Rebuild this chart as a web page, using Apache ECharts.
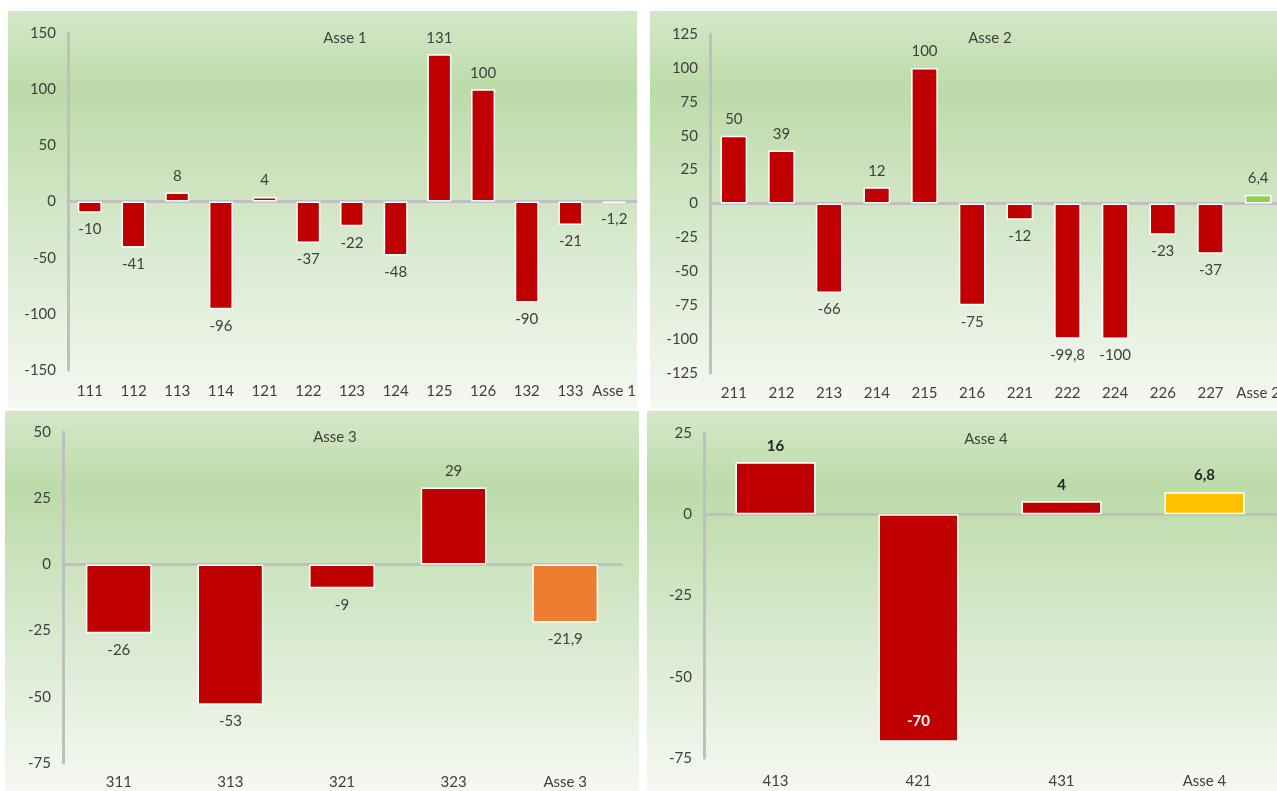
<!DOCTYPE html>
<html>
<head>
<meta charset="utf-8">
<script src="https://cdn.jsdelivr.net/npm/echarts@6/dist/echarts.min.js"></script>
<style>
  html, body { margin: 0; padding: 0; background: #ffffff; }
  #chart { width: 1277px; height: 791px; }
</style>
</head>
<body>
<div id="chart"></div>
<script>
// Scostamenti per asse: categorie e valori
const titles = ['Asse 1', 'Asse 2', 'Asse 3', 'Asse 4'];

const cats1 = ['111', '112', '113', '114', '121', '122', '123', '124', '125', '126', '132', '133', 'Asse 1'];
const vals1 = [-10, -41, 8, -96, 4, -37, -22, -48, 131, 100, -90, -21, -1.2];

const cats2 = ['211', '212', '213', '214', '215', '216', '221', '222', '224', '226', '227', 'Asse 2'];
const vals2 = [50, 39, -66, 12, 100, -75, -12, -99.8, -100, -23, -37, 6.4];

const cats3 = ['311', '313', '321', '323', 'Asse 3'];
const vals3 = [-26, -53, -9, 29, -21.9];

const cats4 = ['413', '421', '431', 'Asse 4'];
const vals4 = [16, -70, 4, 6.8];

// Scale of each value axis: [min, max, interval]
const yScale1 = [-150, 150, 50];
const yScale2 = [-125, 125, 25];
const yScale3 = [-75, 50, 25];
const yScale4 = [-75, 25, 25];

const RED = '#C00000';
const totalColors = [RED, '#92D050', '#ED7D31', '#FFC000'];
const FONT = 'Lato';
const FS = 15;
const TXT = '#404040';
const AXIS = '#BFBFBF';

// Panel frames and plot areas (pixels)
const panels = [
  { box: [8, 11, 629, 397],  grid: { left: 68,  top: 33,  width: 568, height: 337 }, title: [340, 37],  barW: '55%', bold: false, lblMargin: 14 },
  { box: [650, 11, 640, 397], grid: { left: 710, top: 34,  width: 572, height: 339 }, title: [985, 37],  barW: '56%', bold: false, lblMargin: 13 },
  { box: [5, 411, 634, 380],  grid: { left: 63,  top: 432, width: 558, height: 331 }, title: [330, 436], barW: '59%', bold: false, lblMargin: 12 },
  { box: [647, 411, 630, 380], grid: { left: 704, top: 433, width: 572, height: 325 }, title: [981, 438], barW: '56%', bold: true, lblMargin: 16 }
];

const cats = [cats1, cats2, cats3, cats4];
const vals = [vals1, vals2, vals3, vals4];
const scales = [yScale1, yScale2, yScale3, yScale4];

const fmt = v => String(v).replace('.', ',');

const option = {
  animation: false,
  backgroundColor: '#ffffff',
  textStyle: { fontFamily: FONT },
  graphic: { elements: [] },
  title: [],
  grid: [],
  xAxis: [],
  yAxis: [],
  series: []
};

panels.forEach((p, i) => {
  // soft green gradient background of each panel
  option.graphic.elements.push({
    type: 'rect',
    z: -10,
    silent: true,
    shape: { x: p.box[0], y: p.box[1], width: p.box[2], height: p.box[3] },
    style: {
      fill: new echarts.graphic.LinearGradient(0, 0, 0, 1, [
        { offset: 0, color: '#d4e8c9' },
        { offset: 0.2, color: '#bcdba9' },
        { offset: 0.6, color: '#d9ead0' },
        { offset: 1, color: '#f5f8f2' }
      ])
    }
  });

  option.title.push({
    text: titles[i],
    left: p.title[0],
    top: p.title[1] - 11,
    textAlign: 'center',
    textStyle: { fontFamily: FONT, fontSize: FS, fontWeight: 'normal', color: TXT }
  });

  option.grid.push(Object.assign({ containLabel: false, outerBoundsMode: 'none' }, p.grid));

  // category axis carrying the labels along the bottom edge
  option.xAxis.push({
    type: 'category',
    gridIndex: i,
    data: cats[i],
    position: 'bottom',
    axisLine: { show: false, onZero: false },
    axisTick: { show: false },
    axisLabel: { color: TXT, fontFamily: FONT, fontSize: FS, margin: p.lblMargin, interval: 0 },
    splitLine: { show: false }
  });
  // zero line drawn beneath the bars
  option.xAxis.push({
    type: 'category',
    gridIndex: i,
    data: cats[i],
    axisLine: { show: true, onZero: true, lineStyle: { color: AXIS, width: 3 } },
    axisTick: { show: false },
    axisLabel: { show: false },
    splitLine: { show: false }
  });

  option.yAxis.push({
    type: 'value',
    gridIndex: i,
    min: scales[i][0],
    max: scales[i][1],
    interval: scales[i][2],
    axisLine: { show: true, lineStyle: { color: AXIS, width: 3 } },
    axisTick: { show: false },
    splitLine: { show: false },
    axisLabel: { color: TXT, fontFamily: FONT, fontSize: FS, margin: 12 }
  });

  const n = vals[i].length;
  option.series.push({
    type: 'bar',
    xAxisIndex: i * 2,
    yAxisIndex: i,
    barWidth: p.barW,
    data: vals[i].map((v, k) => {
      const item = {
        value: v,
        itemStyle: { color: k === n - 1 ? totalColors[i] : RED, borderColor: '#ffffff', borderWidth: 1.5 },
        label: {
          position: v >= 0 ? 'top' : 'bottom',
          distance: 9
        }
      };
      if (i === 3 && v < -50) {
        item.label = { position: 'insideBottom', distance: 13, color: '#ffffff' };
      }
      return item;
    }),
    label: {
      show: true,
      color: p.bold ? '#262626' : TXT,
      fontFamily: FONT,
      fontSize: FS,
      fontWeight: p.bold ? 'bold' : 'normal',
      formatter: d => fmt(d.value)
    }
  });
});

const chart = echarts.init(document.getElementById('chart'), null, { renderer: 'canvas' });
chart.setOption(option);
</script>
</body>
</html>
